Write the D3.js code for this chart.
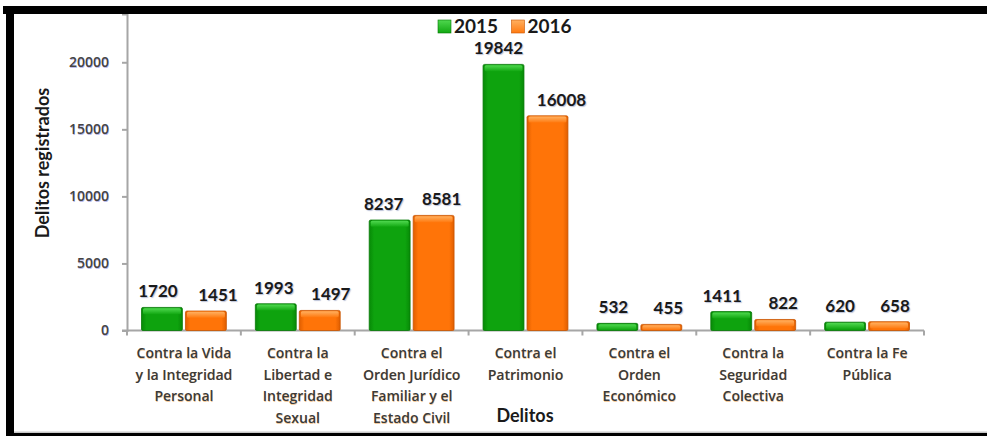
<!DOCTYPE html>
<html>
<head>
<meta charset="utf-8">
<script src="https://cdn.jsdelivr.net/npm/d3@7"></script>
<style>
  body { margin:0; background:#fff; }
  svg { display:block; }
  .val { font-family: Lato, "Open Sans", sans-serif; font-weight:bold; font-size:17px; fill:#1a1a1a;
         text-shadow: 1px 1px 1px rgba(60,80,140,0.35); }
  .cat { font-family: "Open Sans", Lato, sans-serif; font-weight:600; font-size:14px; fill:#3a3a3a;
         text-shadow: 0.5px 0.5px 0.5px rgba(230,140,40,0.45); }
  .ytick text { font-family: "Open Sans", Lato, sans-serif; font-weight:600; font-size:14px; fill:#444;
         text-shadow: 0.5px 0.5px 0.5px rgba(80,80,200,0.4); }
</style>
</head>
<body>
<div id="chart-area"></div>
<script>
// data
var categories = [
  "Contra la Vida\ny la Integridad\nPersonal",
  "Contra la\nLibertad e\nIntegridad\nSexual",
  "Contra el\nOrden Jurídico\nFamiliar y el\nEstado Civil",
  "Contra el\nPatrimonio",
  "Contra el\nOrden\nEconómico",
  "Contra la\nSeguridad\nColectiva",
  "Contra la Fe\nPública"
];
var years = ["2015", "2016"];
var values2015 = [1720, 1993, 8237, 19842, 532, 1411, 620];
var values2016 = [1451, 1497, 8581, 16008, 455, 822, 658];
var yTicks = [0, 5000, 10000, 15000, 20000];
// label nudges as placed in the original
var labelDx2015 = [-4, -2, -6, -5, -4, -9, -5];
var labelDx2016 = [12, 11, 8, 14, 7, 8, 6];

var W = 987, H = 436;
var svg = d3.select("#chart-area").append("svg")
    .attr("width", W).attr("height", H);

var defs = svg.append("defs");
function grad(id, edge, mid) {
  var g = defs.append("linearGradient").attr("id", id)
    .attr("x1", "0").attr("x2", "1").attr("y1", "0").attr("y2", "0");
  g.append("stop").attr("offset", "0").attr("stop-color", edge);
  g.append("stop").attr("offset", "0.12").attr("stop-color", mid);
  g.append("stop").attr("offset", "0.88").attr("stop-color", mid);
  g.append("stop").attr("offset", "1").attr("stop-color", edge);
}
grad("g2015", "#078a07", "#0ea30e");
grad("g2016", "#e05e00", "#ff7408");
function topGrad(id, light, base) {
  var g = defs.append("linearGradient").attr("id", id)
    .attr("x1", "0").attr("x2", "0").attr("y1", "0").attr("y2", "1");
  g.append("stop").attr("offset", "0").attr("stop-color", light);
  g.append("stop").attr("offset", "1").attr("stop-color", base);
}
topGrad("t2015", "#4fd84f", "#12a812");
topGrad("t2016", "#ffb060", "#ff7a10");

var stroke = { "2015": "#067806", "2016": "#c85400" };

var x0 = d3.scaleBand().domain(d3.range(categories.length)).range([127, 924]);
var x1 = d3.scaleBand().domain(years).range([14.5, x0.step() - 14.5]).paddingInner(0.07);
var y = d3.scaleLinear().domain([0, 23600]).range([330.5, 14]);

var rows = categories.map(function(c, i) {
  return { i: i, vals: [
    { year: "2015", v: values2015[i], dx: labelDx2015[i] },
    { year: "2016", v: values2016[i], dx: labelDx2016[i] }
  ]};
});

// y axis
var yAxis = svg.append("g").attr("class", "ytick")
    .attr("transform", "translate(127,0)")
    .call(d3.axisLeft(y).tickValues(yTicks).tickSize(5).tickPadding(13).tickFormat(d3.format("d")));
yAxis.select(".domain").attr("stroke", "#a6a6a6").attr("stroke-width", 2);
yAxis.selectAll(".tick line").attr("stroke", "#a6a6a6").attr("stroke-width", 2);

// x axis
var xAxis = svg.append("g").attr("transform", "translate(0,330.5)");
xAxis.append("line").attr("x1", 122).attr("x2", 924).attr("stroke", "#a6a6a6").attr("stroke-width", 2);
xAxis.selectAll(".bt").data(d3.range(categories.length + 1)).enter().append("line")
  .attr("x1", function(d) { return 127 + d * x0.step(); })
  .attr("x2", function(d) { return 127 + d * x0.step(); })
  .attr("y1", 0).attr("y2", 5)
  .attr("stroke", "#a6a6a6").attr("stroke-width", 2);

// bars
var groups = svg.selectAll(".grp").data(rows).enter().append("g")
  .attr("transform", function(d) { return "translate(" + x0(d.i) + ",0)"; });

var bars = groups.selectAll(".bar").data(function(d) { return d.vals; }).enter().append("g");
bars.append("rect")
  .attr("x", function(d) { return x1(d.year); })
  .attr("y", function(d) { return y(d.v); })
  .attr("width", x1.bandwidth())
  .attr("height", function(d) { return y(0) - y(d.v); })
  .attr("rx", 1.5)
  .attr("fill", function(d) { return "url(#g" + d.year + ")"; })
  .attr("stroke", function(d) { return stroke[d.year]; })
  .attr("stroke-width", 0.8);
bars.append("rect")
  .attr("x", function(d) { return x1(d.year) + 1.5; })
  .attr("y", function(d) { return y(d.v) + 0.8; })
  .attr("width", x1.bandwidth() - 3)
  .attr("height", function(d) { return Math.min(6, y(0) - y(d.v) - 1.5); })
  .attr("rx", 1.5)
  .attr("fill", function(d) { return "url(#t" + d.year + ")"; });

// value labels
bars.append("text").attr("class", "val")
  .attr("x", function(d) { return x1(d.year) + x1.bandwidth() / 2 + d.dx; })
  .attr("y", function(d) { return y(d.v) - 10; })
  .attr("text-anchor", "middle")
  .text(function(d) { return d.v; });

// category labels
svg.selectAll(".cat").data(categories).enter().append("text")
  .attr("class", "cat")
  .attr("text-anchor", "middle")
  .attr("transform", function(d, i) { return "translate(" + (x0(i) + x0.step() / 2) + ",358)"; })
  .each(function(d) {
    var t = d3.select(this);
    d.split("\n").forEach(function(line, k) {
      t.append("tspan").attr("x", 0).attr("y", k * 21.7).text(line);
    });
  });

// axis titles
svg.append("text")
  .attr("transform", "translate(49,163) rotate(-90)")
  .attr("text-anchor", "middle")
  .style("font-family", "Lato, 'Open Sans', sans-serif").style("font-weight", "bold")
  .style("font-size", "18px").style("fill", "#1a1a1a")
  .text("Delitos registrados");
svg.append("text")
  .attr("x", 525).attr("y", 422)
  .attr("text-anchor", "middle")
  .style("font-family", "Lato, 'Open Sans', sans-serif").style("font-weight", "bold")
  .style("font-size", "18px").style("fill", "#1a1a1a")
  .text("Delitos");

// legend
var legend = svg.selectAll(".leg").data(years).enter().append("g")
  .attr("transform", function(d, i) { return "translate(" + (438 + i * 73.5) + ",20)"; });
legend.append("rect").attr("width", 13).attr("height", 13)
  .attr("fill", function(d) { return "url(#t" + d + ")"; })
  .attr("stroke", function(d) { return stroke[d]; }).attr("stroke-width", 0.6);
legend.append("text").attr("x", 16).attr("y", 13)
  .style("font-family", "Lato, 'Open Sans', sans-serif").style("font-weight", "bold")
  .style("font-size", "19px").style("fill", "#1a1a1a")
  .text(function(d) { return d; });

// frame
svg.append("rect").attr("x", 3).attr("y", 6).attr("width", W - 3).attr("height", 8).attr("fill", "#000");
svg.append("rect").attr("x", 6).attr("y", 6).attr("width", 8).attr("height", 427).attr("fill", "#000");
svg.append("rect").attr("x", 14).attr("y", 431.5).attr("width", W - 14).attr("height", 1.5).attr("fill", "#c8c8c8");
svg.append("rect").attr("x", 6).attr("y", 433).attr("width", W - 6).attr("height", 3).attr("fill", "#000");
</script>
</body>
</html>
